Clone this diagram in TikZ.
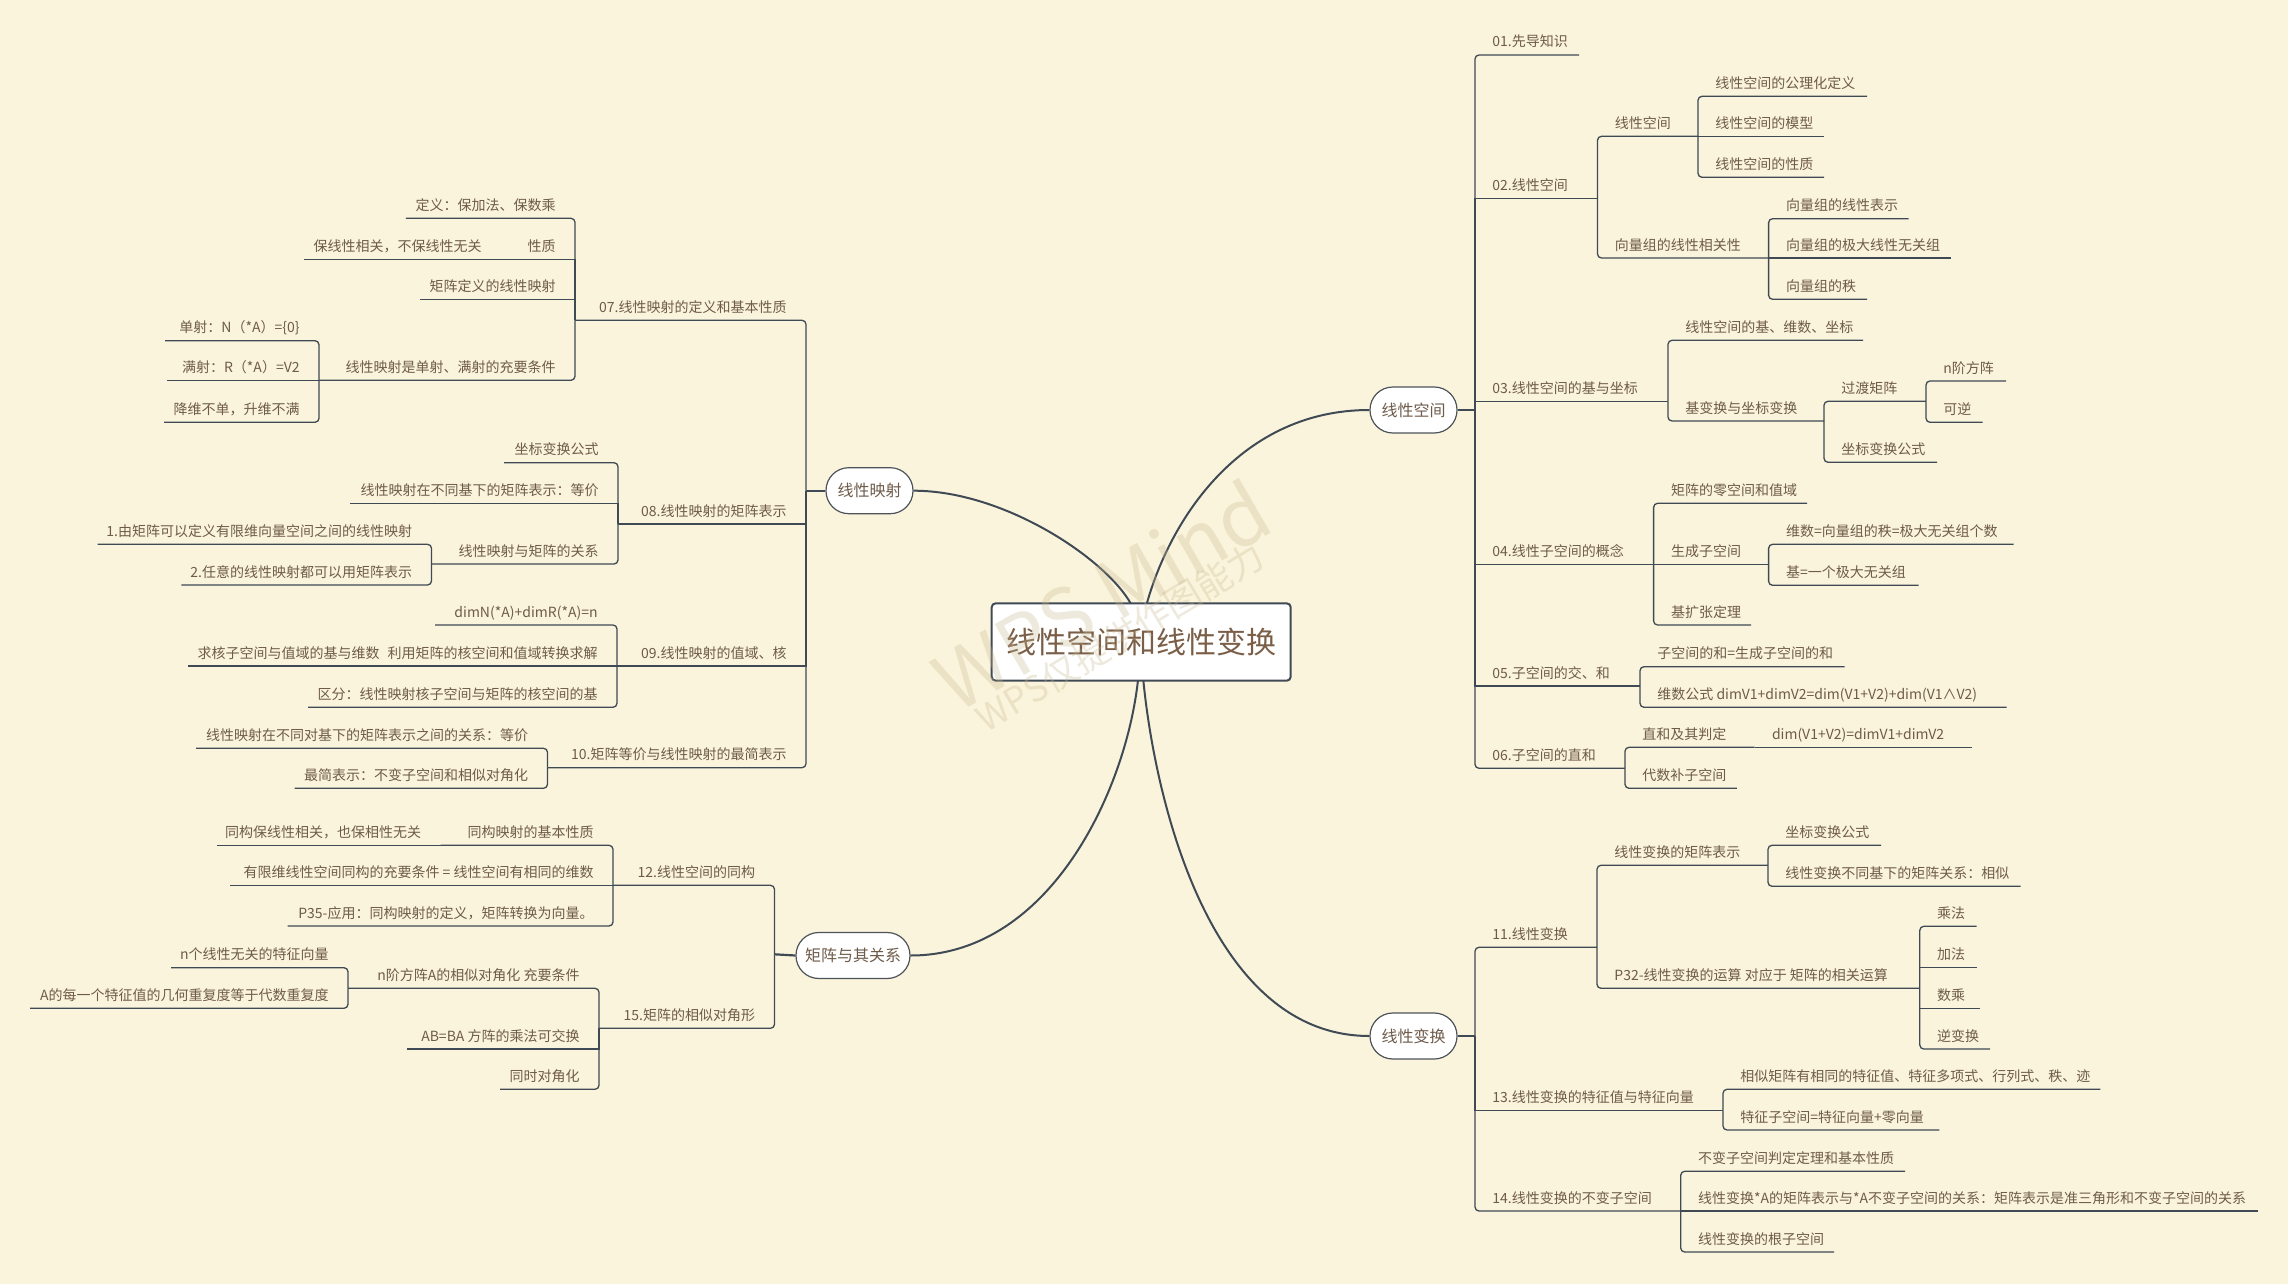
\documentclass[tikz,border=0pt]{standalone}
\usepackage{fontspec}
\setmainfont{Noto Sans CJK SC}
\definecolor{bg}{HTML}{FBF4DC}
\definecolor{ln}{HTML}{3F4A55}
\definecolor{txt}{HTML}{6E5B4A}
\definecolor{ttl}{HTML}{7A5E47}
\definecolor{wm}{HTML}{C8B890}
\definecolor{bubd}{HTML}{4D535A}
\newcommand\mmR[5]{%
 \coordinate (#1-e) at (#3,#4);
 \node[lbl,anchor=base west] (#1) at ({#2+17},{#4-8}) {#5};}
\newcommand\mmL[5]{%
 \coordinate (#1-e) at (#2,#4);
 \node[lbl,anchor=base east] (#1) at ({#3-19},{#4-8}) {#5};}
\tikzset{
 lbl/.style={inner sep=0pt,font=\fontsize{7pt}{8pt}\selectfont,text=txt},
 br/.style={draw=ln,line width=0.65pt},
 rc/.style={rounded corners=2pt},
 trunk/.style={draw=ln,line width=1.1pt},
 curve/.style={draw=ln,line width=1pt},
 bub/.style={draw=bubd,line width=0.6pt,fill=white,rounded corners=11.4pt,minimum height=23pt,inner sep=0pt,font=\fontsize{8pt}{9pt}\selectfont,text=txt},
}
\begin{document}
\begin{tikzpicture}[x=0.5pt,y=-0.5pt]
\useasboundingbox (0,0) rectangle (2288,1284);
\fill[bg] (0,0) rectangle (2288,1284);

% ---------- bubbles ----------
\node[bub,minimum width=43.5pt] (bubA) at (1413.5,410) {线性空间};
\node[bub,minimum width=43.5pt] (bubB) at (1413.5,1036) {线性变换};
\node[bub,minimum width=43.5pt] (bubC) at (869.5,490.7) {线性映射};
\node[bub,minimum width=57pt] (bubD) at (853,955.5) {矩阵与其关系};

% ---------- right upper ----------
\mmR{n01}{1475}{1579}{55}{01.先导知识}
\mmR{n02}{1475}{1597.5}{198.7}{02.线性空间}
\mmR{n02a}{1597.5}{1698}{136.3}{线性空间}
\mmR{n02a1}{1698}{1867}{96.3}{线性空间的公理化定义}
\mmR{n02a2}{1698}{1824}{136.3}{线性空间的模型}
\mmR{n02a3}{1698}{1824}{177.3}{线性空间的性质}
\mmR{n02b}{1597.5}{1768.6}{258}{向量组的线性相关性}
\mmR{n02b1}{1768.6}{1908.6}{218.7}{向量组的线性表示}
\mmR{n02b2}{1768.6}{1951}{258}{向量组的极大线性无关组}
\mmR{n02b3}{1768.6}{1867}{299.3}{向量组的秩}
\mmR{n03}{1475}{1668}{401.3}{03.线性空间的基与坐标}
\mmR{n03a}{1668}{1863}{340.3}{线性空间的基、维数、坐标}
\mmR{n03b}{1668}{1824}{421}{基变换与坐标变换}
\mmR{n03b1}{1824}{1926}{401.3}{过渡矩阵}
\mmR{n03b1a}{1926}{2006}{381}{n阶方阵}
\mmR{n03b1b}{1926}{1982.5}{422.3}{可逆}
\mmR{n03b2}{1824}{1937}{462.3}{坐标变换公式}
\mmR{n04}{1475}{1653.6}{564.3}{04.线性子空间的概念}
\mmR{n04a}{1653.6}{1807}{503.3}{矩阵的零空间和值域}
\mmR{n04b}{1653.6}{1768.6}{564.3}{生成子空间}
\mmR{n04b1}{1768.6}{2013.6}{544.3}{维数=向量组的秩=极大无关组个数}
\mmR{n04b2}{1768.6}{1918.6}{585.3}{基=一个极大无关组}
\mmR{n04c}{1653.6}{1751}{625}{基扩张定理}
\mmR{n05}{1475}{1640}{686}{05.子空间的交、和}
\mmR{n05a}{1640}{1844.7}{666.7}{子空间的和=生成子空间的和}
\mmR{n05b}{1640}{2006.5}{707.3}{维数公式 dimV1+dimV2=dim(V1+V2)+dim(V1∧V2)}
\mmR{n06}{1475}{1625}{768.3}{06.子空间的直和}
\mmR{n06a}{1625}{1754.6}{747.3}{直和及其判定}
\mmR{n06a1}{1754.6}{1972}{747.3}{dim(V1+V2)=dimV1+dimV2}
\mmR{n06b}{1625}{1736.8}{788.3}{代数补子空间}

% ---------- right lower ----------
\mmR{n11}{1475}{1597}{947.3}{11.线性变换}
\mmR{n11a}{1597}{1768}{865.3}{线性变换的矩阵表示}
\mmR{n11a1}{1768}{1881}{845.3}{坐标变换公式}
\mmR{n11a2}{1768}{2020.7}{886.3}{线性变换不同基下的矩阵关系：相似}
\mmR{n11b}{1597}{1919.8}{988.3}{P32-线性变换的运算 对应于 矩阵的相关运算}
\mmR{n11b1}{1919.8}{1976.5}{926.3}{乘法}
\mmR{n11b2}{1919.8}{1976.5}{967.7}{加法}
\mmR{n11b3}{1919.8}{1980}{1008.3}{数乘}
\mmR{n11b4}{1919.8}{1990}{1049}{逆变换}
\mmR{n13}{1475}{1723}{1110.7}{13.线性变换的特征值与特征向量}
\mmR{n13a}{1723}{2100.4}{1089.3}{相似矩阵有相同的特征值、特征多项式、行列式、秩、迹}
\mmR{n13b}{1723}{1939.4}{1130}{特征子空间=特征向量+零向量}
\mmR{n14}{1475}{1680.7}{1211}{14.线性变换的不变子空间}
\mmR{n14a}{1680.7}{1905}{1171.3}{不变子空间判定定理和基本性质}
\mmR{n14b}{1680.7}{2258.3}{1211}{线性变换*A的矩阵表示与*A不变子空间的关系：矩阵表示是准三角形和不变子空间的关系}
\mmR{n14c}{1680.7}{1834}{1252}{线性变换的根子空间}

% ---------- left upper ----------
\mmL{m07}{575}{806}{320.3}{07.线性映射的定义和基本性质}
\mmL{m07a}{405.9}{575}{218.3}{定义：保加法、保数乘}
\mmL{m07b}{501}{575}{259.3}{性质}
\mmL{m07b1}{304}{501}{259.3}{保线性相关，不保线性无关}
\mmL{m07c}{420}{575}{299.3}{矩阵定义的线性映射}
\mmL{m07d}{319}{575}{380.3}{线性映射是单射、满射的充要条件}
\mmL{m07d1}{165}{319}{340.7}{单射：N（*A）=\{0\}}
\mmL{m07d2}{167}{319}{380.3}{满射：R（*A）=V2}
\mmL{m07d3}{164}{319}{422.3}{降维不单，升维不满}
\mmL{m08}{618}{806}{524}{08.线性映射的矩阵表示}
\mmL{m08a}{504}{618}{462.7}{坐标变换公式}
\mmL{m08b}{350}{618}{503.3}{线性映射在不同基下的矩阵表示：等价}
\mmL{m08c}{431.5}{618}{564}{线性映射与矩阵的关系}
\mmL{m08c1}{97.7}{431.5}{544.3}{1.由矩阵可以定义有限维向量空间之间的线性映射}
\mmL{m08c2}{181.4}{431.5}{585}{2.任意的线性映射都可以用矩阵表示}
\mmL{m09}{617}{806}{666}{09.线性映射的值域、核}
\mmL{m09a}{435}{617}{625}{dimN(*A)+dimR(*A)=n}
\mmL{m09b}{187.7}{617}{666}{求核子空间与值域的基与维数\hspace{4pt}利用矩阵的核空间和值域转换求解}
\mmL{m09c}{308}{617}{707.3}{区分：线性映射核子空间与矩阵的核空间的基}
\mmL{m10}{547.5}{806}{767.7}{10.矩阵等价与线性映射的最简表示}
\mmL{m10a}{196}{547.5}{748.3}{线性映射在不同对基下的矩阵表示之间的关系：等价}
\mmL{m10b}{294.6}{547.5}{788.3}{最简表示：不变子空间和相似对角化}

% ---------- left lower ----------
\mmL{m12}{613}{774.5}{885.3}{12.线性空间的同构}
\mmL{m12a}{440.5}{613}{845.3}{同构映射的基本性质}
\mmL{m12a1}{217}{440.5}{845.3}{同构保线性相关，也保相性无关}
\mmL{m12b}{230}{613}{885.3}{有限维线性空间同构的充要条件 = 线性空间有相同的维数}
\mmL{m12c}{287.5}{613}{926}{P35-应用：同构映射的定义，矩阵转换为向量。}
\mmL{m15}{599}{774.5}{1028.3}{15.矩阵的相似对角形}
\mmL{m15a}{348}{599}{988.3}{n阶方阵A的相似对角化 充要条件}
\mmL{m15a1}{171}{348}{967.7}{n个线性无关的特征向量}
\mmL{m15a2}{30}{348}{1008.3}{A的每一个特征值的几何重复度等于代数重复度}
\mmL{m15b}{406.6}{599}{1049}{AB=BA 方阵的乘法可交换}
\mmL{m15c}{500}{599}{1089.3}{同时对角化}

% ---------- spines ----------
\coordinate (RS) at (1475,410);
\coordinate (RS2) at (1475,1036);
\coordinate (LS) at (806,490.7);
\coordinate (LS2) at (774.5,954.3);
\draw[trunk] (bubA.east) -- (RS);
\draw[trunk] (bubB.east) -- (RS2);
\draw[trunk] (bubC.west) -- (LS);
\draw[trunk] (bubD.west) -- (LS2);

\draw[br,rc] (RS) |- (n01-e);
\draw[br] (RS) |- (n02-e);
\draw[br] (RS) |- (n03-e);
\draw[br] (RS) |- (n04-e);
\draw[br] (RS) |- (n05-e);
\draw[br,rc] (RS) |- (n06-e);
\draw[br,rc] (n02-e) |- (n02a-e);
\draw[br,rc] (n02-e) |- (n02b-e);
\draw[br,rc] (n02a-e) |- (n02a1-e);
\draw[br] (n02a-e) |- (n02a2-e);
\draw[br,rc] (n02a-e) |- (n02a3-e);
\draw[br,rc] (n02b-e) |- (n02b1-e);
\draw[br] (n02b-e) |- (n02b2-e);
\draw[br,rc] (n02b-e) |- (n02b3-e);
\draw[br,rc] (n03-e) |- (n03a-e);
\draw[br,rc] (n03-e) |- (n03b-e);
\draw[br,rc] (n03b-e) |- (n03b1-e);
\draw[br,rc] (n03b-e) |- (n03b2-e);
\draw[br,rc] (n03b1-e) |- (n03b1a-e);
\draw[br,rc] (n03b1-e) |- (n03b1b-e);
\draw[br,rc] (n04-e) |- (n04a-e);
\draw[br] (n04-e) |- (n04b-e);
\draw[br,rc] (n04-e) |- (n04c-e);
\draw[br,rc] (n04b-e) |- (n04b1-e);
\draw[br,rc] (n04b-e) |- (n04b2-e);
\draw[br,rc] (n05-e) |- (n05a-e);
\draw[br,rc] (n05-e) |- (n05b-e);
\draw[br,rc] (n06-e) |- (n06a-e);
\draw[br,rc] (n06-e) |- (n06b-e);
\draw[br] (n06a-e) -- (n06a1-e);

\draw[br,rc] (RS2) |- (n11-e);
\draw[br] (RS2) |- (n13-e);
\draw[br,rc] (RS2) |- (n14-e);
\draw[br,rc] (n11-e) |- (n11a-e);
\draw[br,rc] (n11-e) |- (n11b-e);
\draw[br,rc] (n11a-e) |- (n11a1-e);
\draw[br,rc] (n11a-e) |- (n11a2-e);
\draw[br,rc] (n11b-e) |- (n11b1-e);
\draw[br] (n11b-e) |- (n11b2-e);
\draw[br] (n11b-e) |- (n11b3-e);
\draw[br,rc] (n11b-e) |- (n11b4-e);
\draw[br,rc] (n13-e) |- (n13a-e);
\draw[br,rc] (n13-e) |- (n13b-e);
\draw[br,rc] (n14-e) |- (n14a-e);
\draw[br] (n14-e) |- (n14b-e);
\draw[br,rc] (n14-e) |- (n14c-e);

\draw[br,rc] (LS) |- (m07-e);
\draw[br] (LS) |- (m08-e);
\draw[br] (LS) |- (m09-e);
\draw[br,rc] (LS) |- (m10-e);
\draw[br,rc] (m07-e) |- (m07a-e);
\draw[br] (m07-e) |- (m07b-e);
\draw[br] (m07-e) |- (m07c-e);
\draw[br,rc] (m07-e) |- (m07d-e);
\draw[br] (m07b-e) -- (m07b1-e);
\draw[br,rc] (m07d-e) |- (m07d1-e);
\draw[br] (m07d-e) |- (m07d2-e);
\draw[br,rc] (m07d-e) |- (m07d3-e);
\draw[br,rc] (m08-e) |- (m08a-e);
\draw[br] (m08-e) |- (m08b-e);
\draw[br,rc] (m08-e) |- (m08c-e);
\draw[br,rc] (m08c-e) |- (m08c1-e);
\draw[br,rc] (m08c-e) |- (m08c2-e);
\draw[br,rc] (m09-e) |- (m09a-e);
\draw[br] (m09-e) |- (m09b-e);
\draw[br,rc] (m09-e) |- (m09c-e);
\draw[br,rc] (m10-e) |- (m10a-e);
\draw[br,rc] (m10-e) |- (m10b-e);

\draw[br,rc] (LS2) |- (m12-e);
\draw[br,rc] (LS2) |- (m15-e);
\draw[br,rc] (m12-e) |- (m12a-e);
\draw[br] (m12-e) |- (m12b-e);
\draw[br,rc] (m12-e) |- (m12c-e);
\draw[br] (m12a-e) -- (m12a1-e);
\draw[br,rc] (m15-e) |- (m15a-e);
\draw[br] (m15-e) |- (m15b-e);
\draw[br,rc] (m15-e) |- (m15c-e);
\draw[br,rc] (m15a-e) |- (m15a1-e);
\draw[br,rc] (m15a-e) |- (m15a2-e);

% ---------- centre ----------
\coordinate (ctl) at (1131,604);
\coordinate (ctr2) at (1146.7,604);
\coordinate (cbl) at (1138,680);
\coordinate (cbr) at (1143.3,680);
\draw[curve] (bubC.east) .. controls (1005,490.7) and (1106.5,559.5) .. (ctl);
\draw[curve] (ctr2) .. controls (1170,520) and (1240,410) .. (bubA.west);
\draw[curve] (cbl) .. controls (1126,790) and (1050,955.5) .. (bubD.east);
\draw[curve] (cbr) .. controls (1155,800) and (1210,1036) .. (bubB.west);
\node[draw=ln,line width=1pt,fill=white,rounded corners=2pt,minimum width=149.5pt,minimum height=38.7pt,inner sep=0pt,font=\fontsize{15pt}{17pt}\selectfont,text=ttl] (ctr) at (1141.2,642) {线性空间和线性变换};

% ---------- watermark ----------
\node[rotate=30,text=wm,opacity=0.3,font=\fontsize{40pt}{44pt}\selectfont,inner sep=0pt] (wm1) at (1101.5,595) {WPS Mind};
\node[rotate=31,text=wm,opacity=0.3,font=\fontsize{18pt}{20pt}\selectfont,inner sep=0pt] (wm2) at (1120,637) {WPS仅提供作图能力};
\end{tikzpicture}
\end{document}
